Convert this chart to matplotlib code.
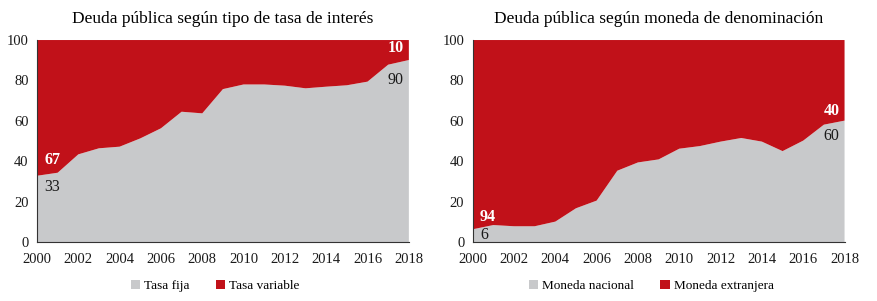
import numpy as np
import matplotlib.pyplot as plt

# Datos
years = list(range(2000, 2019))
tasa_fija = [32.8, 34.3, 43.4, 46.4, 47.2, 51.3, 56.3, 64.5, 63.7, 75.7,
             78.0, 78.0, 77.4, 76.1, 76.9, 77.6, 79.4, 87.8, 90.1]
moneda_nacional = [6.3, 8.4, 7.8, 7.8, 10.1, 16.7, 20.5, 35.3, 39.4, 40.9,
                   46.2, 47.5, 49.7, 51.5, 49.7, 45.0, 50.2, 58.1, 60.1]

titles = ['Deuda pública según tipo de tasa de interés',
          'Deuda pública según moneda de denominación']
legend_labels = [['Tasa fija', 'Tasa variable'],
                 ['Moneda nacional', 'Moneda extranjera']]
# etiquetas: (inicio bajo, inicio alto), (final bajo, final alto)
start_labels = [('33', '67'), ('6', '94')]
end_labels = [('90', '10'), ('60', '40')]

GREY = '#c8c9cb'
RED = '#c11119'

plt.rcParams['font.family'] = ['Liberation Serif', 'DejaVu Serif']

fig = plt.figure(figsize=(8.77, 3.01), dpi=100)
ax1 = fig.add_axes([0.0422, 0.196, 0.424, 0.671])
ax2 = fig.add_axes([0.539, 0.196, 0.424, 0.671])

series = [tasa_fija, moneda_nacional]
lab_pos = [
    # (inicio bajo, inicio alto, final bajo, final alto)
    (27, 40.5, 80, 96),
    (3.5, 12.5, 52.5, 65),
]

for i, ax in enumerate([ax1, ax2]):
    low = np.array(series[i])
    high = 100 - low
    ax.stackplot(years, low, high, colors=[GREY, RED], labels=legend_labels[i],
                 linewidth=0)
    ax.set_xlim(2000, 2018)
    ax.set_ylim(0, 100)
    ax.set_xticks(range(2000, 2019, 2))
    ax.set_yticks(range(0, 101, 20))
    ax.tick_params(length=0, labelsize=10.5, colors='#1a1a1a')
    ax.tick_params(axis='x', pad=8)
    ax.tick_params(axis='y', pad=6)
    for s in ['top', 'right']:
        ax.spines[s].set_visible(False)
    for s in ['left', 'bottom']:
        ax.spines[s].set_linewidth(0.8)
        ax.spines[s].set_color('#333333')
    ax.set_title(titles[i], fontsize=12.5, pad=12, color='#000000')

    p = lab_pos[i]
    ax.text(2000.35, p[0], start_labels[i][0], fontsize=11.5, color='#1a1a1a',
            ha='left', va='center')
    ax.text(2000.35, p[1], start_labels[i][1], fontsize=11.5, color='white',
            fontweight='bold', ha='left', va='center')
    ax.text(2017.75, p[2], end_labels[i][0], fontsize=11.5, color='#1a1a1a',
            ha='right', va='center')
    ax.text(2017.75, p[3], end_labels[i][1], fontsize=11.5, color='white',
            fontweight='bold', ha='right', va='center')

    ax.legend(loc='upper center', bbox_to_anchor=(0.48, -0.13), ncol=2,
              frameon=False, fontsize=9.5, handlelength=0.7, handleheight=0.7,
              handletextpad=0.3, columnspacing=2.0)

plt.savefig('out.png', dpi=100)
plt.close()
